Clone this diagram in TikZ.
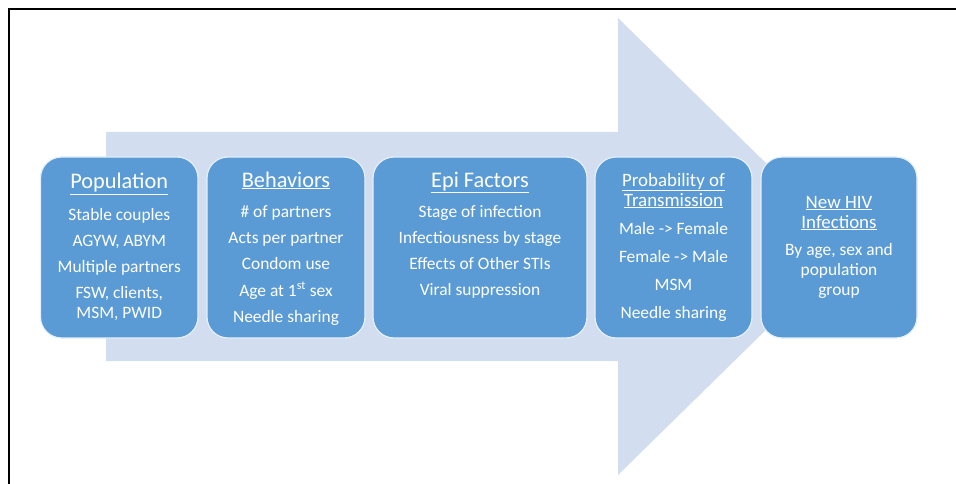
\documentclass[tikz,border=0pt]{standalone}
\usepackage{fontspec}
\setmainfont{Carlito}
\definecolor{boxblue}{HTML}{5B9BD5}
\definecolor{arrowblue}{HTML}{D2DEEF}
\begin{document}
\begin{tikzpicture}[x=1pt,y=-1pt,
  card/.style={draw=white!85!boxblue, line width=1.2pt, fill=boxblue, rounded corners=21pt, minimum height=181pt, inner sep=0pt},
  ttl/.style={text=white, font=\fontsize{22.3}{24}\selectfont, inner sep=0pt, anchor=base},
  ttls/.style={text=white, font=\fontsize{18.9}{21}\selectfont, inner sep=0pt, anchor=base},
  bod/.style={text=white, font=\fontsize{17.4}{20}\selectfont, inner sep=0pt, anchor=base}]
\useasboundingbox (0,0) rectangle (956,484);
\draw[line width=2pt] (9,484) -- (9,9) -- (957,9);
\fill[arrowblue] (106,132) -- (618,132) -- (618,18) -- (851,246.5) -- (618,475) -- (618,361) -- (106,361) -- cycle;
% cards
\node[card, minimum width=157.5pt] (c1) at (119.25,247.5) {};
\node[card, minimum width=158pt] (c2) at (286,247.5) {};
\node[card, minimum width=214pt] (c3) at (480,247.5) {};
\node[card, minimum width=157pt] (c4) at (673.5,247.5) {};
\node[card, minimum width=156pt] (c5) at (839,247.5) {};
% card 1
\node[ttl] (t1) at (119.25,189) {\underline{Population}};
\node[bod] (a1) at (119.25,220) {Stable couples};
\node[bod] (a2) at (119.25,246) {AGYW, ABYM};
\node[bod] (a3) at (119.25,272) {Multiple partners};
\node[bod] (a4) at (119.25,298) {FSW, clients,};
\node[bod] (a5) at (119.25,318) {MSM, PWID};
% card 2
\node[ttl] (t2) at (286,187) {\underline{Behaviors}};
\node[bod] (b1) at (286,217) {\# of partners};
\node[bod] (b2) at (286,243) {Acts per partner};
\node[bod] (b3) at (286,269) {Condom use};
\node[bod] (b4) at (286,296) {Age at 1\textsuperscript{st} sex};
\node[bod] (b5) at (286,322) {Needle sharing};
% card 3
\node[ttl] (t3) at (480,187) {\underline{Epi Factors}};
\node[bod] (e1) at (480,217) {Stage of infection};
\node[bod] (e2) at (480,243) {Infectiousness by stage};
\node[bod] (e3) at (480,269) {Effects of Other STIs};
\node[bod] (e4) at (480,295) {Viral suppression};
% card 4
\node[ttls] (t4a) at (673.5,186) {\underline{Probability of}};
\node[ttls] (t4b) at (673.5,206) {\underline{Transmission}};
\node[bod] (f1) at (673.5,234) {Male -> Female};
\node[bod] (f2) at (673.5,262) {Female -> Male};
\node[bod] (f3) at (673.5,290) {MSM};
\node[bod] (f4) at (673.5,318) {Needle sharing};
% card 5
\node[ttls] (t5a) at (839,208) {\underline{New HIV}};
\node[ttls] (t5b) at (839,228) {\underline{Infections}};
\node[bod] (g1) at (839,255) {By age, sex and};
\node[bod] (g2) at (839,275) {population};
\node[bod] (g3) at (839,295) {group};
\end{tikzpicture}
\end{document}
